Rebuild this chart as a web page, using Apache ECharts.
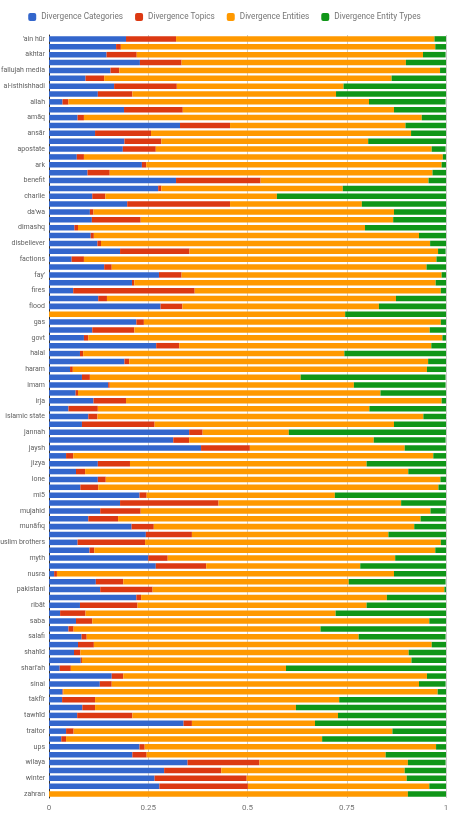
<!DOCTYPE html>
<html>
<head>
<meta charset="utf-8">
<script src="https://cdn.jsdelivr.net/npm/echarts@6/dist/echarts.min.js"></script>
<style>html,body{margin:0;padding:0;background:#fff;}#c{width:449px;height:821px;}</style>
</head>
<body>
<div id="c"></div>
<script>
const categories = ["'ain hūr","ahl","akhtar","al-anfal","al fallujah media","al-hayat","al-isthishhadi","alawite","allah","amaliyyat","amāq","amir","ansār","apostasy","apostate","aqīda","ark","baqiya","benefit","caliphate","charlie","crusader","da'wa","dābiq","dimashq","dīn","disbeliever","emir","factions","fatwa","fay'","fitna","fires","fisq","flood","france","gas","ghanīma","govt","hadīth","halal","hamas","haram","hijra","imam","infidel","irja","islam","islamic state","jāhiliyya","jannah","jaw","jaysh","jihad","jizya","khilāfa","lone","martyr","mi5","muhājir","mujahid","mulk","munāfiq","murtadd","muslim brothers","muslims","myth","nasheed","nusra","pagan","pakistani","qital","ribāt","rum","saba","sahwa","salafi","sayf","shahīd","shams","shari'ah","shirk","sinai","sunni","takfīr","tawāghīt","tawhīd","tora","traitor","ummah","ups","wālī","wilaya","wine","winter","yazidi","zahran"];

const divCategories = [0.194,0.169,0.145,0.229,0.155,0.092,0.164,0.123,0.034,0.189,0.072,0.330,0.116,0.190,0.186,0.070,0.234,0.097,0.320,0.275,0.109,0.197,0.103,0.108,0.064,0.105,0.122,0.179,0.057,0.139,0.277,0.209,0.061,0.124,0.281,0,0.220,0.109,0.088,0.270,0.078,0.190,0.053,0.083,0.149,0.067,0.112,0.049,0.099,0.083,0.353,0.313,0.383,0.043,0.123,0.068,0.123,0.079,0.228,0.179,0.129,0.099,0.208,0.244,0.072,0.102,0.250,0.269,0.013,0.118,0.129,0.220,0.078,0.028,0.068,0.049,0.082,0.073,0.063,0.080,0.027,0.158,0.128,0.034,0.033,0.084,0.071,0.339,0.043,0.031,0.228,0.210,0.349,0.290,0.266,0.278,0];
const divTopics = [0.126,0.012,0.076,0.105,0.022,0.047,0.158,0.087,0.015,0.148,0.016,0.126,0.141,0.093,0.083,0.018,0.011,0.056,0.213,0.008,0.033,0.259,0.009,0.123,0.009,0.008,0.009,0.175,0.031,0.019,0.057,0.006,0.306,0.022,0.055,0,0.019,0.106,0.011,0.058,0.008,0.012,0.007,0.020,0.004,0.006,0.082,0.074,0.023,0.183,0.034,0.040,0.123,0.018,0.081,0.023,0.020,0.045,0.018,0.248,0.102,0.075,0.056,0.116,0.170,0.012,0.049,0.127,0.007,0.069,0.132,0.012,0.145,0.064,0.041,0.013,0.013,0.040,0.016,0.003,0.028,0.029,0.030,0.002,0.083,0.032,0.139,0.021,0.019,0.012,0.013,0.036,0.181,0.144,0.232,0.223,0];
const divEntities = [0.651,0.792,0.721,0.565,0.808,0.724,0.420,0.513,0.757,0.532,0.851,0.442,0.655,0.521,0.695,0.904,0.744,0.813,0.423,0.457,0.432,0.332,0.757,0.636,0.723,0.819,0.829,0.626,0.888,0.793,0.655,0.759,0.620,0.728,0.495,0.746,0.748,0.744,0.892,0.635,0.658,0.753,0.892,0.531,0.615,0.762,0.795,0.684,0.821,0.603,0.217,0.465,0.390,0.907,0.596,0.814,0.843,0.857,0.474,0.460,0.730,0.762,0.656,0.495,0.745,0.859,0.573,0.388,0.849,0.568,0.735,0.619,0.577,0.630,0.849,0.622,0.685,0.851,0.827,0.830,0.542,0.765,0.774,0.943,0.615,0.506,0.518,0.310,0.803,0.645,0.734,0.602,0.374,0.462,0.403,0.457,0.904];
const divEntityTypes = [0.029,0.028,0.057,0.101,0.015,0.137,0.259,0.277,0.193,0.131,0.061,0.102,0.088,0.196,0.035,0.008,0.011,0.034,0.044,0.260,0.427,0.212,0.131,0.133,0.204,0.068,0.040,0.019,0.024,0.049,0.011,0.026,0.013,0.126,0.170,0.254,0.013,0.041,0.009,0.038,0.256,0.045,0.049,0.365,0.231,0.165,0.011,0.193,0.057,0.131,0.396,0.181,0.105,0.033,0.200,0.095,0.014,0.019,0.280,0.113,0.038,0.064,0.080,0.145,0.013,0.028,0.128,0.217,0.131,0.244,0.004,0.149,0.200,0.279,0.042,0.316,0.219,0.036,0.094,0.088,0.404,0.049,0.067,0.021,0.269,0.378,0.272,0.330,0.135,0.312,0.026,0.152,0.095,0.105,0.099,0.042,0.096];

const seriesNames = ['Divergence Categories','Divergence Topics','Divergence Entities','Divergence Entity Types'];
const seriesData = [divCategories, divTopics, divEntities, divEntityTypes];
const colors = ['#3366cc','#dc3912','#ff9900','#109618'];
const xTicks = [0, 0.25, 0.5, 0.75, 1];

const chart = echarts.init(document.getElementById('c'), null, {renderer:'canvas'});
chart.setOption({
  animation: false,
  color: colors,
  legend: {
    top: 8, left: 'center',
    itemWidth: 8, itemHeight: 8, itemGap: 12,
    icon: 'roundRect',
    textStyle: {color: '#757575', fontSize: 8.2, fontFamily: 'Roboto'},
    data: seriesNames
  },
  grid: {left: 49, right: 3, top: 35, bottom: 23, containLabel: false, outerBoundsMode: 'none'},
  xAxis: {
    type: 'value', min: 0, max: 1, interval: 0.25,
    axisLine: {show: false}, axisTick: {show: false},
    splitLine: {show: true, lineStyle: {color: '#cccccc', width: 1}},
    axisLabel: {color: '#757575', fontSize: 8, fontFamily: 'Roboto', margin: 6,
      formatter: v => { const t = xTicks.find(x => Math.abs(x - v) < 1e-9); return t === undefined ? '' : String(t); }}
  },
  yAxis: {
    type: 'category', inverse: true, data: categories,
    axisLine: {show: true, lineStyle: {color: '#333333', width: 1}},
    axisTick: {show: false},
    axisLabel: {interval: 1, color: '#616161', fontSize: 7, fontFamily: 'Roboto', margin: 4}
  },
  series: seriesNames.map((n, i) => ({
    name: n, type: 'bar', stack: 'total', data: seriesData[i],
    barCategoryGap: '30%', itemStyle: {color: colors[i]}
  }))
});
</script>
</body>
</html>
